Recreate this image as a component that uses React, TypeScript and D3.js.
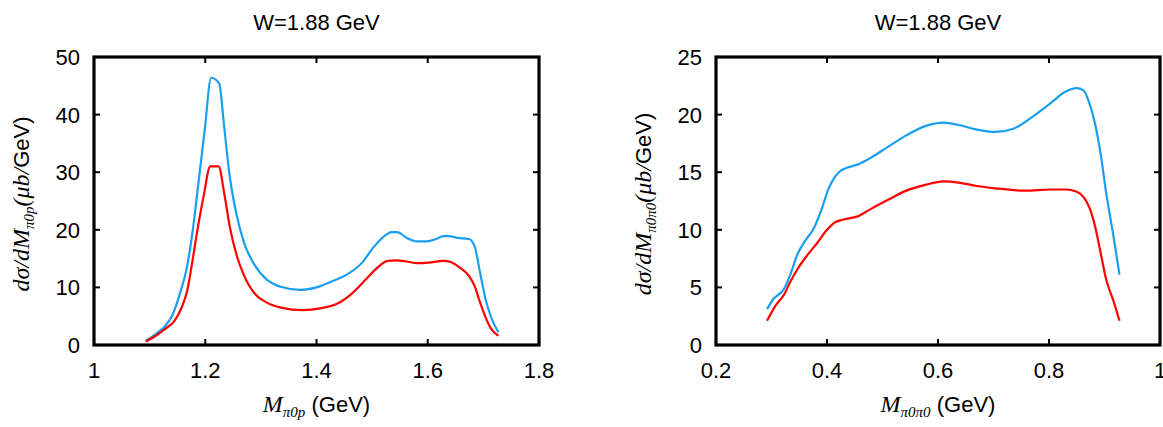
import React from "react";
import * as d3 from "d3";

// ---- Left panel data: M_{pi0 p} ----
const leftBlueX = [1.093, 1.111, 1.128, 1.141, 1.154, 1.1675, 1.177, 1.187, 1.199, 1.2106, 1.225, 1.234, 1.244, 1.257, 1.27, 1.29, 1.31, 1.336, 1.3695, 1.403, 1.429, 1.456, 1.482, 1.502, 1.522, 1.535, 1.545, 1.562, 1.581, 1.598, 1.615, 1.628, 1.638, 1.654, 1.674, 1.684, 1.694, 1.704, 1.714, 1.727];
const leftBlueY = [0.75, 1.9, 3.3, 5.2, 8.8, 13.7, 19.5, 27.5, 37.3, 46.4, 45.4, 37.9, 29.3, 22.3, 17.7, 13.7, 11.4, 10.1, 9.56, 10.1, 11.1, 12.3, 14.3, 16.9, 18.9, 19.6, 19.6, 18.6, 18.0, 18.0, 18.4, 18.9, 18.9, 18.6, 18.4, 17.2, 12.6, 7.9, 4.8, 2.2];
const leftRedX = [1.093, 1.111, 1.128, 1.144, 1.158, 1.1675, 1.177, 1.187, 1.197, 1.209, 1.224, 1.234, 1.244, 1.257, 1.27, 1.29, 1.31, 1.336, 1.376, 1.409, 1.436, 1.462, 1.489, 1.509, 1.528, 1.542, 1.562, 1.581, 1.601, 1.628, 1.641, 1.658, 1.674, 1.684, 1.694, 1.704, 1.714, 1.727];
const leftRedY = [0.58, 1.6, 2.8, 4.1, 6.6, 9.4, 14.6, 20.6, 25.8, 31.0, 31.0, 26.4, 20.6, 15.4, 12.0, 8.8, 7.4, 6.5, 6.05, 6.4, 7.1, 8.8, 11.4, 13.4, 14.6, 14.7, 14.5, 14.2, 14.3, 14.6, 14.4, 13.4, 12.0, 10.3, 7.4, 4.8, 2.8, 1.6];
const leftXTicks = [1, 1.2, 1.4, 1.6, 1.8];
const leftYTicks = [0, 10, 20, 30, 40, 50];

// ---- Right panel data: M_{pi0 pi0} ----
const rightBlueX = [0.292, 0.303, 0.323, 0.333, 0.347, 0.36, 0.377, 0.39, 0.403, 0.413, 0.423, 0.437, 0.457, 0.477, 0.51, 0.543, 0.577, 0.61, 0.637, 0.67, 0.703, 0.737, 0.77, 0.803, 0.83, 0.85, 0.862, 0.872, 0.883, 0.893, 0.903, 0.917, 0.927];
const rightBlueY = [3.11, 3.97, 4.9, 6.0, 7.9, 9.0, 10.2, 11.75, 13.6, 14.5, 15.06, 15.4, 15.7, 16.2, 17.2, 18.2, 19.0, 19.3, 19.1, 18.7, 18.5, 18.8, 19.8, 21.0, 22.0, 22.3, 22.1, 21.1, 19.2, 16.6, 13.2, 9.2, 6.1];
const rightRedX = [0.292, 0.307, 0.323, 0.333, 0.347, 0.363, 0.383, 0.4, 0.413, 0.43, 0.457, 0.477, 0.51, 0.543, 0.577, 0.61, 0.637, 0.67, 0.703, 0.757, 0.803, 0.83, 0.85, 0.863, 0.873, 0.883, 0.893, 0.903, 0.917, 0.927];
const rightRedY = [2.1, 3.4, 4.4, 5.4, 6.6, 7.7, 8.9, 10.0, 10.6, 10.9, 11.2, 11.75, 12.6, 13.4, 13.9, 14.2, 14.1, 13.8, 13.6, 13.4, 13.5, 13.5, 13.3, 12.8, 11.9, 10.3, 8.0, 5.7, 3.7, 2.1];
const rightXTicks = [0.2, 0.4, 0.6, 0.8, 1];
const rightYTicks = [0, 5, 10, 15, 20, 25];

const BLUE = "#1a9ef2";
const RED = "#ff0000";
const SANS = "'Liberation Sans', Arial, Helvetica, sans-serif";
const SERIF = "'Liberation Serif', 'Times New Roman', serif";

type PanelProps = {
  x0: number;
  x1: number;
  xDomain: [number, number];
  yDomain: [number, number];
  xTicks: number[];
  yTicks: number[];
  series: { xs: number[]; ys: number[]; color: string }[];
  sub: string;
};

function fmt(v: number) {
  return String(v);
}

function Panel({ x0, x1, xDomain, yDomain, xTicks, yTicks, series, sub }: PanelProps) {
  const top = 57;
  const bottom = 345;
  const x = d3.scaleLinear().domain(xDomain).range([x0, x1]);
  const y = d3.scaleLinear().domain(yDomain).range([bottom, top]);
  const line = d3
    .line<[number, number]>()
    .x((d) => x(d[0]))
    .y((d) => y(d[1]))
    .curve(d3.curveMonotoneX);
  const cx = (x0 + x1) / 2;
  const tl = 6;
  const ylabX = x0 - 65;
  const ylabY = 204;
  return (
    <g>
      <text x={cx} y={30} textAnchor="middle" fontFamily={SANS} fontSize={22}>
        W=1.88 GeV
      </text>
      {series.map((s, i) => (
        <path
          key={i}
          d={line(s.xs.map((v, j) => [v, s.ys[j]] as [number, number])) || ""}
          fill="none"
          stroke={s.color}
          strokeWidth={2.2}
          strokeLinejoin="round"
        />
      ))}
      {xTicks.map((t) => (
        <g key={"xt" + t}>
          <line x1={x(t)} x2={x(t)} y1={bottom} y2={bottom - tl} stroke="#000" strokeWidth={2} />
          <line x1={x(t)} x2={x(t)} y1={top} y2={top + tl} stroke="#000" strokeWidth={2} />
          <text x={x(t)} y={378} textAnchor="middle" fontFamily={SANS} fontSize={22}>
            {fmt(t)}
          </text>
        </g>
      ))}
      {yTicks.map((t) => (
        <g key={"yt" + t}>
          <line x1={x0} x2={x0 + tl} y1={y(t)} y2={y(t)} stroke="#000" strokeWidth={2} />
          <line x1={x1} x2={x1 - tl} y1={y(t)} y2={y(t)} stroke="#000" strokeWidth={2} />
          <text x={x0 - 14} y={y(t) + 8} textAnchor="end" fontFamily={SANS} fontSize={22}>
            {fmt(t)}
          </text>
        </g>
      ))}
      <rect x={x0} y={top} width={x1 - x0} height={bottom - top} fill="none" stroke="#000" strokeWidth={3.2} />
      {/* x label */}
      <text x={cx} y={412} textAnchor="middle" fontSize={22}>
        <tspan fontFamily={SERIF} fontStyle="italic" fontSize={24}>M</tspan>
        <tspan fontFamily={SERIF} fontStyle="italic" fontSize={15} dy={5}>{sub}</tspan>
        <tspan fontFamily={SANS} fontSize={22} dy={-5}> (GeV)</tspan>
      </text>
      {/* y label */}
      <text
        transform={`translate(${ylabX},${ylabY}) rotate(-90)`}
        textAnchor="middle"
        fontSize={24}
      >
        <tspan fontFamily={SERIF} fontStyle="italic">dσ/dM</tspan>
        <tspan fontFamily={SERIF} fontStyle="italic" fontSize={15} dy={5}>{sub}</tspan>
        <tspan fontFamily={SERIF} fontStyle="italic" dy={-5}>(μb/</tspan>
        <tspan fontFamily={SANS} fontSize={22}>GeV)</tspan>
      </text>
    </g>
  );
}

export default function App() {
  return (
    <div>
      <style>{`body{margin:0;}`}</style>
      <svg width={1163} height={427} style={{ display: "block", background: "#fff" }}>
        <Panel
          x0={94}
          x1={539}
          xDomain={[1, 1.8]}
          yDomain={[0, 50]}
          xTicks={leftXTicks}
          yTicks={leftYTicks}
          sub="π0p"
          series={[
            { xs: leftBlueX, ys: leftBlueY, color: BLUE },
            { xs: leftRedX, ys: leftRedY, color: RED },
          ]}
        />
        <Panel
          x0={716}
          x1={1160}
          xDomain={[0.2, 1]}
          yDomain={[0, 25]}
          xTicks={rightXTicks}
          yTicks={rightYTicks}
          sub="π0π0"
          series={[
            { xs: rightBlueX, ys: rightBlueY, color: BLUE },
            { xs: rightRedX, ys: rightRedY, color: RED },
          ]}
        />
      </svg>
    </div>
  );
}
